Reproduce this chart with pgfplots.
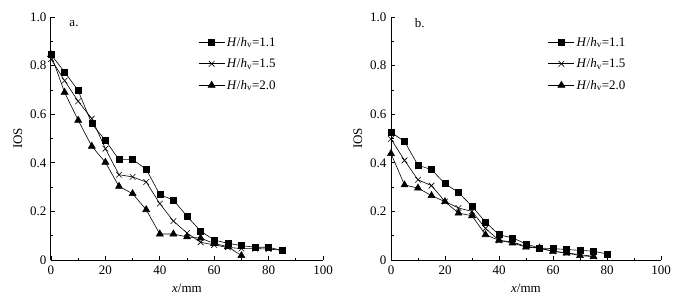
\documentclass[border=0pt]{standalone}
\usepackage{pgfplots}
\pgfplotsset{compat=1.18}
\usepackage{fontspec}
\setmainfont{Liberation Serif}
\pgfplotstableread{
x a b c
0 0.845 0.827 0.845
5 0.774 0.738 0.690
10 0.697 0.653 0.575
15 0.561 0.582 0.468
20 0.492 0.458 0.402
25 0.413 0.351 0.303
30 0.413 0.342 0.273
35 0.374 0.321 0.207
40 0.269 0.232 0.107
45 0.247 0.160 0.107
50 0.180 0.111 0.095
55 0.119 0.073 0.090
60 0.082 0.062 0.068
65 0.069 0.052 0.055
70 0.059 0.047 0.018
75 0.053 0.047 nan
80 0.052 0.045 nan
85 0.040 0.040 nan
}\leftdata
\pgfplotstableread{
x a b c
0 0.525 0.498 0.438
5 0.488 0.410 0.309
10 0.390 0.330 0.296
15 0.372 0.306 0.265
20 0.314 0.241 0.240
25 0.278 0.214 0.193
30 0.221 0.200 0.182
35 0.156 0.130 0.104
40 0.104 0.081 0.081
45 0.091 0.074 0.070
50 0.066 0.056 0.053
55 0.049 0.049 0.049
60 0.047 0.036 0.036
65 0.043 0.029 0.029
70 0.040 0.022 0.018
75 0.036 0.015 0.014
80 0.025 nan nan
}\rightdata
\pgfplotsset{
  myaxis/.style={
    scale only axis,
    height=243pt,
    xmin=0, xmax=100, ymin=0, ymax=1.0,
    axis lines*=left,
    axis line style={line width=1pt},
    tick align=inside,
    xtick={0,20,40,60,80,100},
    ytick={0,0.2,0.4,0.6,0.8,1.0},
    yticklabels={0,0.2,0.4,0.6,0.8,1.0},
    minor x tick num=1,
    minor y tick num=1,
    major tick length=4pt,
    minor tick length=2.5pt,
    tick style={line width=0.8pt, black},
    /pgf/number format/assume math mode=true,
    tick label style={font=\fontsize{13}{15}\selectfont},
    xticklabel style={yshift=-2pt},
    yticklabel style={xshift=-1pt},
    label style={font=\fontsize{13}{15}\selectfont},
    xlabel={\textit{x}/mm},
    ylabel={IOS},
    xlabel style={yshift=-3pt},
    ylabel style={yshift=1pt},
    clip=false,
    legend cell align=left,
    legend image code/.code={
      \draw[mark repeat=2,mark phase=2] plot coordinates {(0pt,0pt)(13pt,0pt)(26pt,0pt)};
    },
    legend style={draw=none, fill=none, anchor=north west,
      font=\fontsize{13}{15}\selectfont, row sep=7pt},
    every axis plot/.append style={black, line width=0.6pt},
  }
}
\begin{document}
\begin{tikzpicture}
\useasboundingbox (-51pt,-43pt) rectangle (636pt,260pt);
\begin{axis}[myaxis, width=272pt, at={(0pt,0pt)}, anchor=south west,
  legend style={at={(rel axis cs:0.53,0.935)}}]
\addplot[mark=square*, mark size=3pt] table[x=x,y=a] {\leftdata};
\addplot[mark=x, mark size=4pt] table[x=x,y=b] {\leftdata};
\addplot[mark=triangle*, mark size=4pt] table[x=x,y=c] {\leftdata};
\legend{\textit{H}/\textit{h}\textsubscript{v}=1.1,\textit{H}/\textit{h}\textsubscript{v}=1.5,\textit{H}/\textit{h}\textsubscript{v}=2.0}
\node[anchor=west, font=\fontsize{13}{15}\selectfont] at (axis cs:5.5,0.975) {a.};
\end{axis}
\begin{axis}[myaxis, width=270pt, at={(340pt,0pt)}, anchor=south west,
  legend style={at={(rel axis cs:0.57,0.935)}}]
\addplot[mark=square*, mark size=3pt] table[x=x,y=a] {\rightdata};
\addplot[mark=x, mark size=4pt] table[x=x,y=b] {\rightdata};
\addplot[mark=triangle*, mark size=4pt] table[x=x,y=c] {\rightdata};
\legend{\textit{H}/\textit{h}\textsubscript{v}=1.1,\textit{H}/\textit{h}\textsubscript{v}=1.5,\textit{H}/\textit{h}\textsubscript{v}=2.0}
\node[anchor=west, font=\fontsize{13}{15}\selectfont] at (axis cs:7.5,0.975) {b.};
\end{axis}
\end{tikzpicture}
\end{document}
